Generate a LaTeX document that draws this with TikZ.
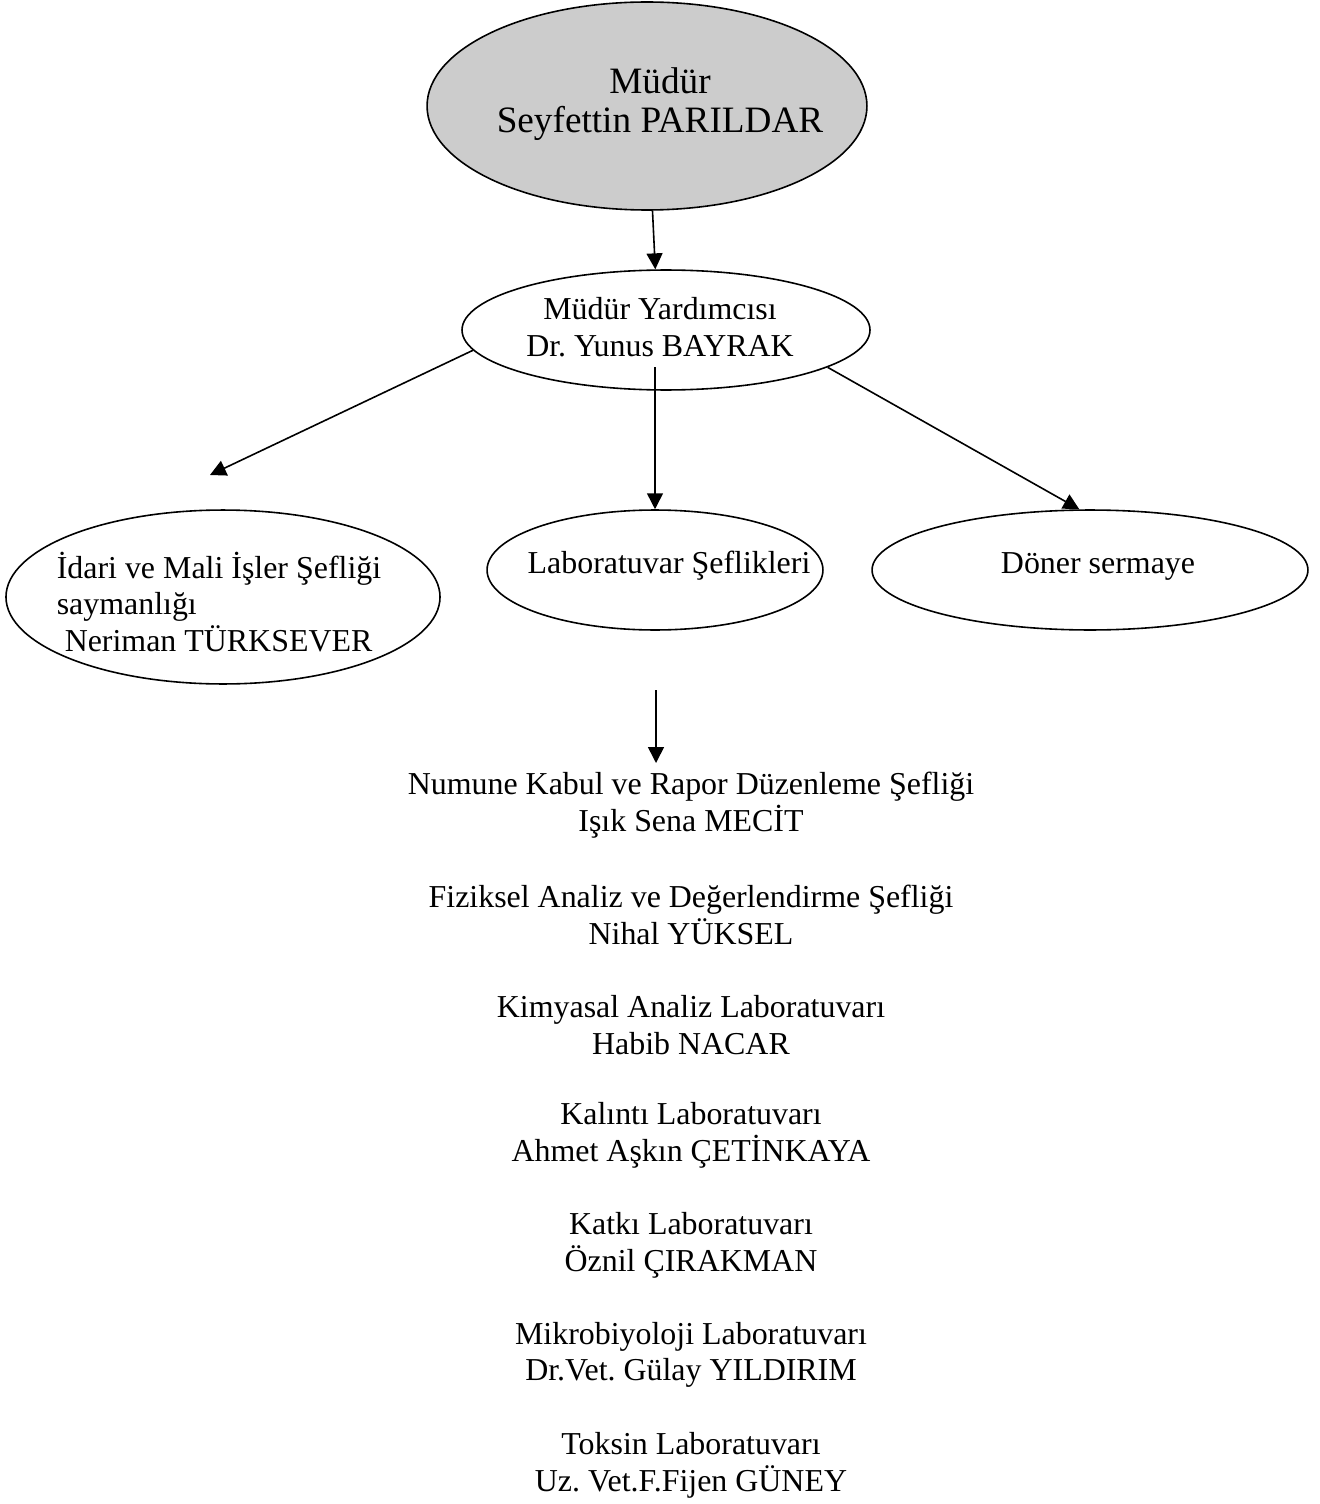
\documentclass[tikz,border=0pt]{standalone}
\usepackage{fontspec}
\setmainfont{Liberation Serif}
\usetikzlibrary{shapes.geometric, arrows.meta}
\frenchspacing

\begin{document}
\begin{tikzpicture}[x=0.376pt, y=-0.376pt, line width=0.6pt,
    oval/.style={draw, ellipse, inner sep=0pt},
    lbl/.style={inner sep=0pt, align=center, font=\fontsize{12}{13.8}\selectfont},
    arr/.style={-{Triangle[length=6pt, width=6pt]}}]
    \useasboundingbox (0,0) rectangle (1319,1504);

    % ellipses
    \node[oval, fill=black!20, minimum width=165.4pt, minimum height=78.2pt] at (647, 106) (mudur) {};
    \node[oval, minimum width=153.4pt, minimum height=45.1pt] at (666, 330) (yard) {};
    \node[oval, minimum width=163.2pt, minimum height=65.4pt] at (223, 597) (idari) {};
    \node[oval, minimum width=126.3pt, minimum height=45.1pt] at (655, 570) (lab) {};
    \node[oval, minimum width=163.9pt, minimum height=45.1pt] at (1090, 570) (doner) {};

    % texts in the ellipses
    \node[lbl, font=\fontsize{14}{14.8}\selectfont] at (660, 104) (mudurtxt) {Müdür\\Seyfettin PARILDAR};
    \node[lbl] at (660, 327) (yardtxt) {Müdür Yardımcısı\\Dr. Yunus BAYRAK};
    \node[lbl, align=left, anchor=west] at (56, 602) (idaritxt) {İdari ve Mali İşler Şefliği\\saymanlığı\\\hspace*{3pt}Neriman TÜRKSEVER};
    \node[lbl, anchor=base] at (669, 573) (labtxt) {Laboratuvar Şeflikleri};
    \node[lbl, anchor=base] at (1098, 573) (donertxt) {Döner sermaye};

    % laboratories
    \node[lbl] at (691, 805) (numune) {Numune Kabul ve Rapor Düzenleme Şefliği\\Işık Sena MECİT};
    \node[lbl] at (691, 915) (fiziksel) {Fiziksel Analiz ve Değerlendirme Şefliği\\Nihal YÜKSEL};
    \node[lbl] at (691, 1025) (kimyasal) {Kimyasal Analiz Laboratuvarı\\Habib NACAR};
    \node[lbl] at (691, 1135) (kalinti) {Kalıntı Laboratuvarı\\Ahmet Aşkın ÇETİNKAYA};
    \node[lbl] at (691, 1245) (katki) {Katkı Laboratuvarı\\Öznil ÇIRAKMAN};
    \node[lbl] at (691, 1355) (mikro) {Mikrobiyoloji Laboratuvarı\\Dr.Vet. Gülay YILDIRIM};
    \node[lbl] at (691, 1465) (toksin) {Toksin Laboratuvarı\\Uz. Vet.F.Fijen GÜNEY};

    % free arrow ends
    \coordinate (idaritip) at (210, 475);
    \coordinate (labstart) at (655, 367);
    \coordinate (listart) at (656, 690);
    \coordinate (listend) at (656, 763);

    \draw [arr] (mudur.-87) -- (yard.100);
    \draw [arr] (yard.186) -- (idaritip);
    \draw [arr] (labstart) -- (lab.north);
    \draw [arr] (yard.-13) -- (doner.100);
    \draw [arr] (listart) -- (listend);
\end{tikzpicture}
\end{document}
